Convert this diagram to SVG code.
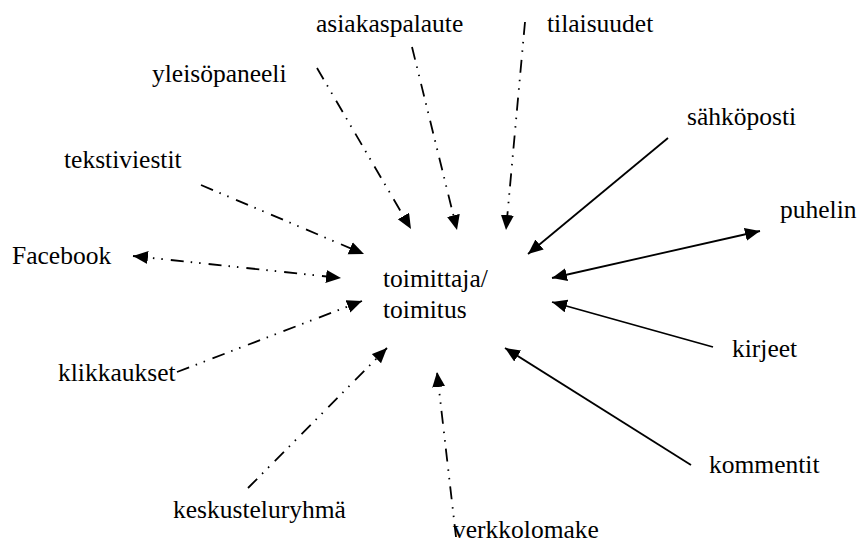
<svg xmlns="http://www.w3.org/2000/svg" width="857" height="546" viewBox="0 0 857 546" font-family="'Liberation Serif', 'Times New Roman', Times, serif">
<style>
text{font-family:'Liberation Serif','Times New Roman',Times,serif;font-size:25.5px;fill:#000}
.c{fill:none;stroke:#000;stroke-width:1.8}
.d{stroke-dasharray:13 7 1.5 7 1.5 8}
</style>
<defs>
<marker id="ah" markerUnits="userSpaceOnUse" markerWidth="16" markerHeight="14" refX="15" refY="6.5" orient="auto-start-reverse">
<path d="M0,0 L15,6.5 L0,13 Z" fill="#000"/>
</marker>
</defs>
<rect width="857" height="546" fill="#fff"/>
<g id="connectors">
<line class="c d" x1="317" y1="68" x2="411" y2="229" marker-end="url(#ah)"/>
<line class="c d" x1="412" y1="47" x2="457" y2="230" marker-end="url(#ah)"/>
<line class="c d" x1="525" y1="22" x2="506" y2="230" marker-end="url(#ah)"/>
<line class="c d" x1="201" y1="185" x2="364" y2="254" marker-end="url(#ah)"/>
<line class="c d" x1="133" y1="256" x2="341" y2="278" marker-start="url(#ah)" marker-end="url(#ah)"/>
<line class="c d" x1="177" y1="372" x2="362" y2="301" marker-end="url(#ah)"/>
<line class="c d" x1="248" y1="488" x2="387" y2="348" marker-end="url(#ah)"/>
<line class="c d" x1="456" y1="537" x2="437" y2="372" marker-end="url(#ah)"/>
<line class="c" x1="668" y1="138" x2="528" y2="254" marker-end="url(#ah)"/>
<line class="c" x1="552" y1="278" x2="760" y2="231" marker-start="url(#ah)" marker-end="url(#ah)"/>
<line class="c" x1="713" y1="347" x2="552" y2="302" marker-end="url(#ah)"/>
<line class="c" x1="691" y1="465" x2="505" y2="348" marker-end="url(#ah)"/>
</g>
<g id="toimitus"><text x="383" y="287">toimittaja/</text><text x="383" y="318">toimitus</text></g>
<g id="asiakaspalaute"><text x="316" y="32">asiakaspalaute</text></g>
<g id="tilaisuudet"><text x="547" y="32">tilaisuudet</text></g>
<g id="yleisopaneeli"><text x="152" y="82">yleisöpaneeli</text></g>
<g id="tekstiviestit"><text x="64" y="168">tekstiviestit</text></g>
<g id="sahkoposti"><text x="687" y="125">sähköposti</text></g>
<g id="puhelin"><text x="780" y="218">puhelin</text></g>
<g id="facebook"><text x="12" y="264">Facebook</text></g>
<g id="klikkaukset"><text x="58" y="381">klikkaukset</text></g>
<g id="kirjeet"><text x="732" y="357">kirjeet</text></g>
<g id="kommentit"><text x="709" y="473">kommentit</text></g>
<g id="keskusteluryhma"><text x="173" y="518">keskusteluryhmä</text></g>
<g id="verkkolomake"><text x="453" y="538">verkkolomake</text></g>
</svg>
